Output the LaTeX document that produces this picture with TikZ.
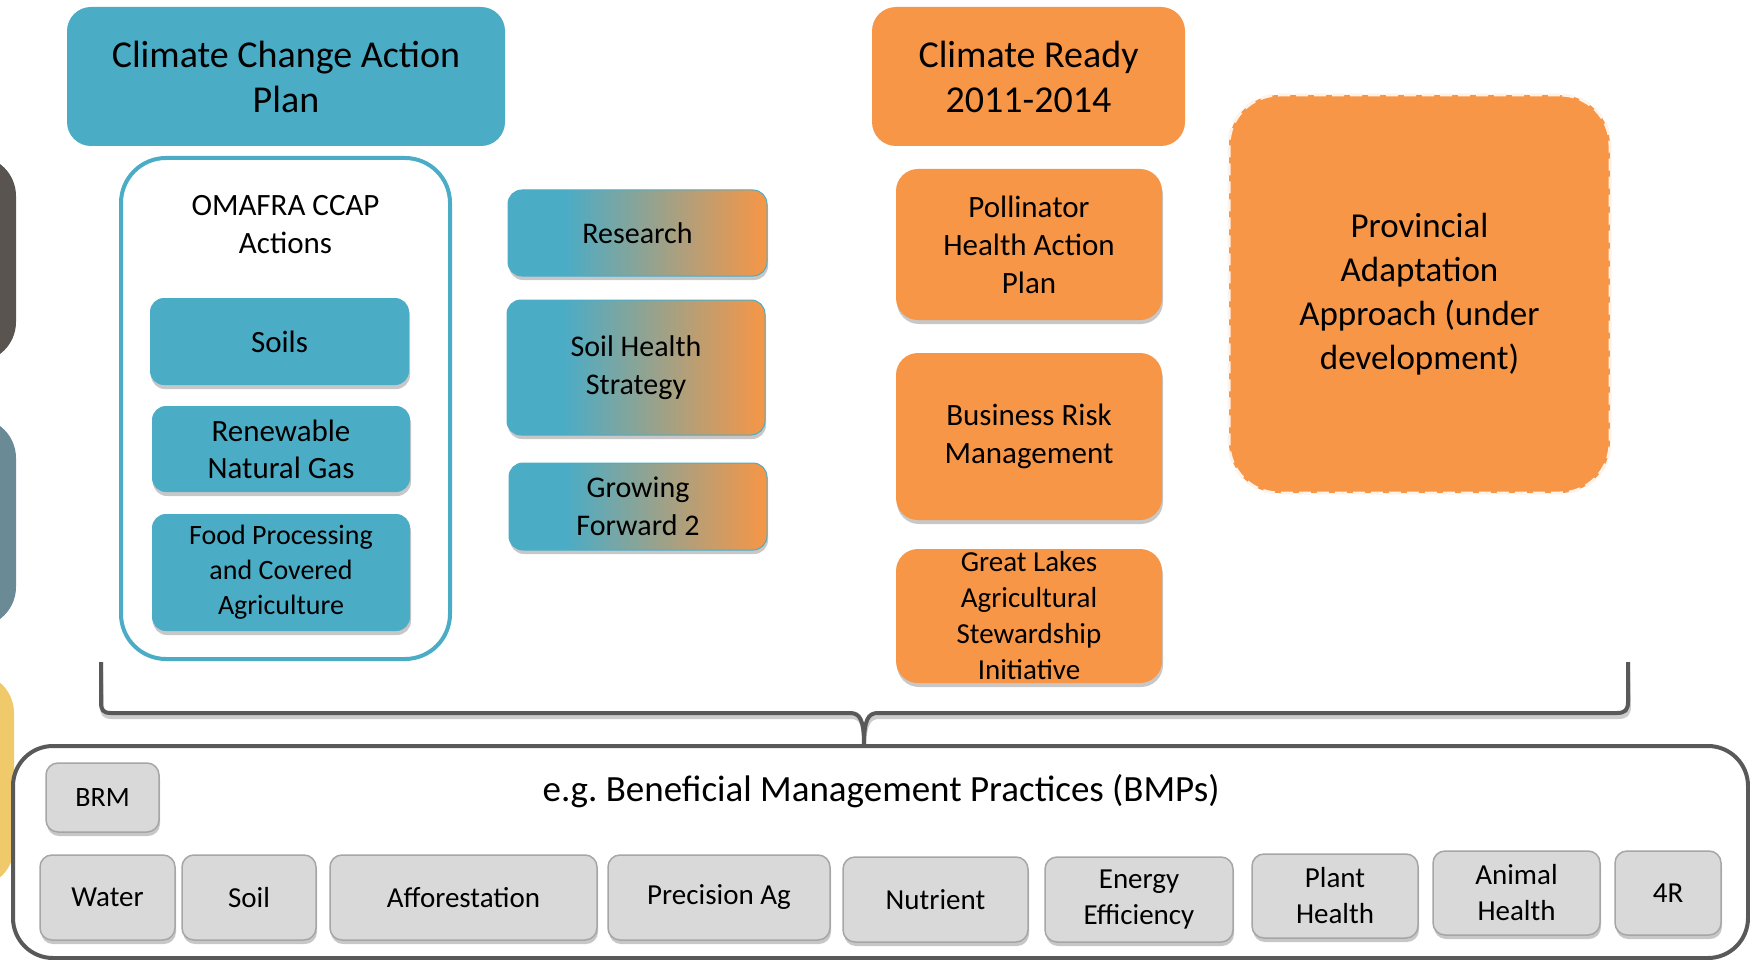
\documentclass[tikz,border=0pt]{standalone}
\usepackage{fontspec}
\setmainfont{Carlito}
\usetikzlibrary{shadows}
\definecolor{cblue}{HTML}{4BACC6}
\definecolor{corange}{HTML}{F79646}
\definecolor{cdark}{HTML}{595959}
\definecolor{cgreyfill}{HTML}{D9D9D9}
\definecolor{cgreyline}{HTML}{A6A6A6}
\definecolor{cbrown}{HTML}{5A5450}
\definecolor{cslate}{HTML}{6A8A96}
\definecolor{cyellow}{HTML}{F0CA6A}
\pgfdeclarehorizontalshading{bluorange}{100bp}{color(0bp)=(cblue); color(36bp)=(cblue); color(75bp)=(corange); color(100bp)=(corange)}
\newcommand\fs[2]{\fontsize{#1}{#2}\selectfont}
\frenchspacing
\begin{document}
\begin{tikzpicture}[x=1pt,y=-1pt,
  card/.style={rounded corners=14pt, inner sep=0pt, align=center, text=black},
  shad/.style={drop shadow={shadow xshift=1pt, shadow yshift=-4pt, opacity=0.22, fill=black}},
  bluecard/.style={card, shad, fill=cblue, font=\fs{31}{37}},
  gradcard/.style={card, shad, shading=bluorange, draw=cblue, line width=1pt, font=\fs{30}{38}},
  orangecard/.style={card, shad, fill=corange, rounded corners=22pt, font=\fs{31}{38}},
  greycard/.style={card, shad, fill=cgreyfill, draw=cgreyline, line width=1.5pt, rounded corners=12pt, font=\fs{29}{36}},
  headcard/.style={card, rounded corners=24pt, font=\fs{38}{45}},
]
\useasboundingbox (0,0) rectangle (1750,960);
\clip (0,0) rectangle (1750,960);

% cropped shapes on the left edge
\fill[cbrown, rounded corners=40pt] (-120,156) rectangle (16,362);
\fill[cslate, rounded corners=40pt] (-120,418) rectangle (16,627);
\fill[cyellow, rounded corners=40pt] (-120,673) rectangle (14,887);

% headers
\node[headcard, fill=cblue, minimum width=438pt, minimum height=139pt] (ccap) at (286,76.5) {Climate Change Action\\Plan};
\node[headcard, fill=corange, minimum width=313pt, minimum height=139pt] (cready) at (1028.5,76.5) {Climate Ready\\2011-2014};

% OMAFRA container
\node[draw=cblue, line width=4pt, fill=white, rounded corners=45pt, minimum width=329pt, minimum height=501pt, inner sep=0pt] (omafra) at (285.5,408.5) {};
\node[font=\fs{31}{38}, align=center, inner sep=0pt] (omafralbl) at (285.5,225) {OMAFRA CCAP\\Actions};
\node[bluecard, minimum width=259pt, minimum height=87pt] (soils) at (279.5,341.5) {Soils};
\node[bluecard, minimum width=258pt, minimum height=86pt] (rng) at (281,449) {Renewable\\Natural Gas};
\node[bluecard, minimum width=258pt, minimum height=117pt, font=\fs{28}{35}] (food) at (281,572.5) {Food Processing\\and Covered\\Agriculture};

% gradient boxes
\node[gradcard, minimum width=259pt, minimum height=86pt] (research) at (637.5,233) {Research};
\node[gradcard, minimum width=258pt, minimum height=135pt] (soilhealth) at (636,367.5) {Soil Health\\Strategy};
\node[gradcard, minimum width=258pt, minimum height=87pt] (gf2) at (638,506.5) {Growing\\Forward 2};

% orange column
\node[orangecard, minimum width=266pt, minimum height=151pt] (pollinator) at (1029,244.5) {Pollinator\\Health Action\\Plan};
\node[orangecard, minimum width=266pt, minimum height=167pt] (bizrisk) at (1029,436.5) {Business Risk\\Management};
\node[orangecard, minimum width=266pt, minimum height=134pt, font=\fs{29}{36}] (glasi) at (1029,616) {Great Lakes\\Agricultural\\Stewardship\\Initiative};

% provincial adaptation approach
\node[card, fill=corange, draw=corange!12!white, line width=3pt, dash pattern=on 12pt off 6pt, rounded corners=50pt, minimum width=381pt, minimum height=398pt, font=\fs{35}{44}] (paa) at (1419.5,294) {Provincial\\Adaptation\\Approach (under\\development)};

% BMP container
\node[draw=cdark, line width=4pt, fill=white, rounded corners=40pt, minimum width=1735pt, minimum height=212pt, inner sep=0pt] (bmp) at (880.5,852) {};
\node[font=\fs{37}{44}, inner sep=0pt] (bmptitle) at (881,791) {e.g. Beneficial Management Practices (BMPs)};
\node[greycard, minimum width=113pt, minimum height=69pt, font=\fs{28}{34}] (brm) at (102.5,797.5) {BRM};
\node[greycard, minimum width=135pt, minimum height=85pt] (water) at (107.5,897.5) {Water};
\node[greycard, minimum width=134pt, minimum height=85pt] (soil) at (249,897.5) {Soil};
\node[greycard, minimum width=267pt, minimum height=85pt] (aff) at (463.5,897.5) {Afforestation};
\node[greycard, minimum width=222pt, minimum height=85pt] (prec) at (719,897.5) {Precision Ag};
\node[greycard, minimum width=185pt, minimum height=85pt] (nutr) at (935.5,899.5) {Nutrient};
\node[greycard, minimum width=188pt, minimum height=85pt] (energy) at (1139,899.5) {Energy\\Efficiency};
\node[greycard, minimum width=166pt, minimum height=84pt] (plant) at (1335,896) {Plant\\Health};
\node[greycard, minimum width=167pt, minimum height=84pt] (animal) at (1516.5,893) {Animal\\Health};
\node[greycard, minimum width=106pt, minimum height=84pt] (fourr) at (1668,893) {4R};

% brace
\coordinate (bl) at (101,662);
\coordinate (br) at (1628,662);
\coordinate (bc) at (864,745);
\draw[black, opacity=0.2, line width=4pt, shift={(1,4)}] (bl) -- (101,702) .. controls (101,710) and (103,713) .. (111,713) -- (850,713) .. controls (860,713) and (864,720) .. (bc) .. controls (864,720) and (868,713) .. (878,713) -- (1617,713) .. controls (1625,713) and (1628,710) .. (1628,702) -- (br);
\draw[cdark, line width=4pt] (bl) -- (101,702) .. controls (101,710) and (103,713) .. (111,713) -- (850,713) .. controls (860,713) and (864,720) .. (bc) .. controls (864,720) and (868,713) .. (878,713) -- (1617,713) .. controls (1625,713) and (1628,710) .. (1628,702) -- (br);
\end{tikzpicture}
\end{document}
